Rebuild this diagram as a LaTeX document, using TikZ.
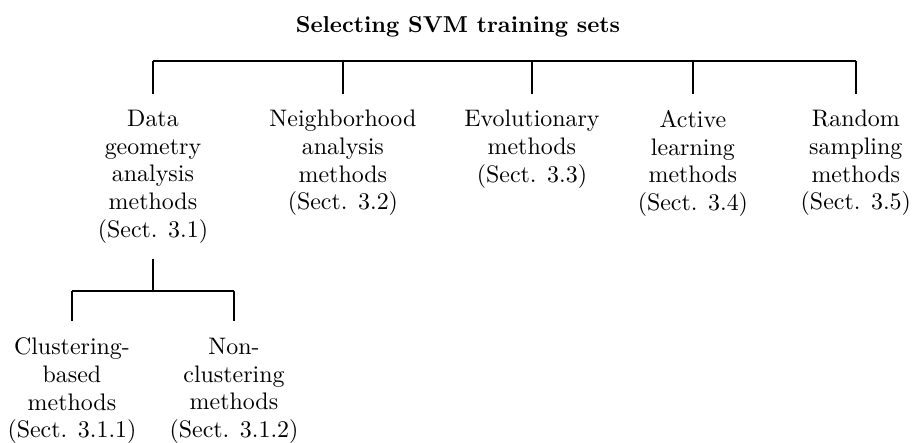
\documentclass[tikz,border=0pt]{standalone}
\usetikzlibrary{positioning}

\begin{document}
\begin{tikzpicture}[
  cat/.style={align=center, inner sep=0pt, anchor=north, font=\fontsize{10.4}{12}\selectfont},
  title/.style={font=\bfseries, inner sep=0pt, anchor=base},
  tree/.style={line width=0.9pt}
]
  \useasboundingbox (0,0) rectangle (14.0,-6.77);

  \node[title] (title) at (7.0,-0.489) {Selecting SVM training sets};

  \node[cat] (data) at (2.338,-1.68) {Data\\geometry\\analysis\\methods\\(Sect. 3.1)};
  \node[cat] (neigh) at (5.241,-1.68) {Neighborhood\\analysis\\methods\\(Sect. 3.2)};
  \node[cat] (evol) at (8.13,-1.68) {Evolutionary\\methods\\(Sect. 3.3)};
  \node[cat] (active) at (10.59,-1.68) {Active\\learning\\methods\\(Sect. 3.4)};
  \node[cat] (random) at (13.08,-1.68) {Random\\sampling\\methods\\(Sect. 3.5)};

  \node[cat] (clust) at (1.100,-5.16) {Clustering-\\based\\methods\\(Sect. 3.1.1)};
  \node[cat] (nonclust) at (3.576,-5.16) {Non-\\clustering\\methods\\(Sect. 3.1.2)};

  % top level
  \coordinate (bar) at (7.0,-0.932);
  \draw[tree] (data |- bar) -- (random |- bar);
  \foreach \n in {data,neigh,evol,active,random}
    \draw[tree] (\n |- bar) -- ([yshift=2.5mm]\n.north);

  % data geometry subtree
  \coordinate (subbar) at (2.338,-4.447);
  \draw[tree] ([yshift=-2.3mm]data.south) -- (subbar);
  \draw[tree] (clust |- subbar) -- (nonclust |- subbar);
  \foreach \n in {clust,nonclust}
    \draw[tree] (\n |- subbar) -- ([yshift=2.5mm]\n.north);
\end{tikzpicture}
\end{document}
